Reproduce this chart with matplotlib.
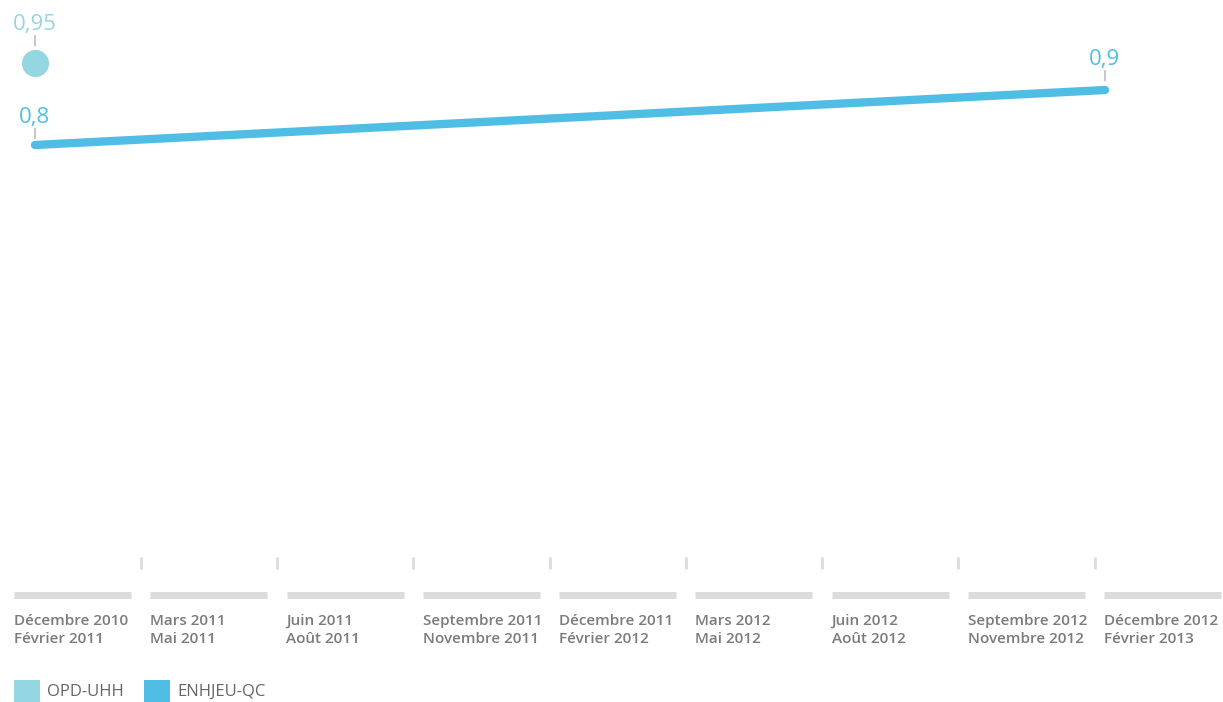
import matplotlib.pyplot as plt
from matplotlib import transforms
from matplotlib.lines import Line2D

plt.rcParams['font.family'] = ['Open Sans', 'DejaVu Sans']

# periods on the axis (two lines per label)
periods_start = ['Décembre 2010', 'Mars 2011', 'Juin 2011', 'Septembre 2011', 'Décembre 2011',
                 'Mars 2012', 'Juin 2012', 'Septembre 2012', 'Décembre 2012']
periods_end = ['Février 2011', 'Mai 2011', 'Août 2011', 'Novembre 2011', 'Février 2012',
               'Mai 2012', 'Août 2012', 'Novembre 2012', 'Février 2013']

# series (index of period, value)
opd_idx = [0]
opd_val = [0.95]
enh_idx = [0, 8]
enh_val = [0.8, 0.9]

series_names = ['OPD-UHH', 'ENHJEU-QC']
c_opd = '#95d6e3'
c_enh = '#50bee4'
c_text = '#7b7b7b'
c_band = '#dcdcdc'

W, H = 1223, 702
fig = plt.figure(figsize=(W / 100, H / 100), dpi=100)

# timeline layer in pixel units
tl = fig.add_axes([0, 0, 1, 1])
tl.set_xlim(0, W)
tl.set_ylim(H, 0)
tl.axis('off')

band_x0, band_w, band_step = 14, 117, 136.25
for i, (a, b) in enumerate(zip(periods_start, periods_end)):
    x = band_x0 + i * band_step
    tl.plot([x, x + band_w], [595, 595], color=c_band, lw=5, solid_capstyle='butt')
    tl.text(x, 621, a, color=c_text, fontsize=11, fontweight='semibold', va='center', ha='left')
    tl.text(x, 639, b, color=c_text, fontsize=11, fontweight='semibold', va='center', ha='left')
    if i > 0:
        tx = x - 9.5
        tl.plot([tx, tx], [557, 569], color=c_band, lw=2, solid_capstyle='butt')

# legend
lx = 14
for name, col in zip(series_names, [c_opd, c_enh]):
    tl.add_patch(plt.Rectangle((lx, 680), 26, 22, color=col, lw=0))
    tl.text(lx + 33, 692, name, color='#666666', fontsize=12, va='center', ha='left')
    lx += 130

# data layer
ax = fig.add_axes([0, 0, 1, 1])
ax.patch.set_alpha(0)
ax.axis('off')
x0, xstep = 35, (1105 - 35) / 8
px_per_unit = 550
y_top = 0.8 + 145 / px_per_unit
y_bot = 0.8 - (H - 145) / px_per_unit
ax.set_xlim(0, W)
ax.set_ylim(y_bot, y_top)

ex = [x0 + i * xstep for i in enh_idx]
ox = [x0 + i * xstep for i in opd_idx]
ax.plot(ex, enh_val, color=c_enh, lw=6, solid_capstyle='round', zorder=3)
ax.scatter(ox, opd_val, s=380, color=c_opd, lw=0, zorder=3)


def label(x, v, col, gap):
    up = transforms.offset_copy(ax.transData, fig=fig, x=0, y=gap + 20, units='dots')
    ax.text(x, v, f'{v:g}'.replace('.', ','), color=col, fontsize=16,
            ha='center', va='center', transform=up)
    t1 = transforms.offset_copy(ax.transData, fig=fig, x=0, y=gap, units='dots')
    t2 = transforms.offset_copy(ax.transData, fig=fig, x=0, y=gap + 9, units='dots')
    p1 = t1.transform((x, v))
    p2 = t2.transform((x, v))
    fig.add_artist(Line2D([p1[0], p2[0]], [p1[1], p2[1]], transform=None,
                          color='#c8c8c8', lw=1.5))


label(ox[0], opd_val[0], c_opd, 18)
label(ex[0], enh_val[0], c_enh, 7)
label(ex[1], enh_val[1], c_enh, 10)

fig.savefig('out.png', dpi=100)
